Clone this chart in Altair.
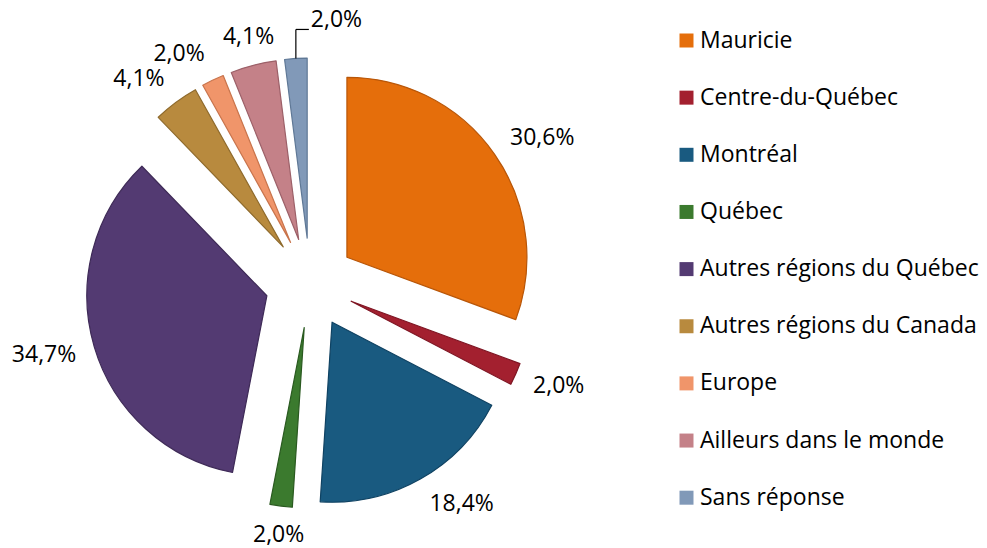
import math
import altair as alt
import pandas as pd

categories = [
    "Mauricie",
    "Centre-du-Québec",
    "Montréal",
    "Québec",
    "Autres régions du Québec",
    "Autres régions du Canada",
    "Europe",
    "Ailleurs dans le  monde",
    "Sans réponse",
]
values = [30.6, 2.0, 18.4, 2.0, 34.7, 4.1, 2.0, 4.1, 2.0]
colors = ["#E56E0B", "#A3202F", "#195A80", "#3B7A2E", "#533A72",
          "#B88A3E", "#F0956A", "#C48188", "#8199B8"]
edge_colors = ["#B85608", "#7E1523", "#0F4262", "#2A5A20", "#3E2A57",
               "#8E6A2C", "#C8744C", "#9C6068", "#5F7896"]
labels = [f"{v:.1f}".replace(".", ",") + "%" for v in values]
# label drawn with a leader line (moved out of the crowded top area)
leader_categories = ["Sans réponse"]

df = pd.DataFrame({
    "category": categories,
    "value": values,
    "label": labels,
    "order": list(range(len(categories))),
    "leader": [c in leader_categories for c in categories],
})
total = sum(values)

CX, CY = 310, 283      # pie centre (px)
R = 180                # radius
EXPLODE = 45           # explosion distance
LR = 244               # label anchor distance from centre
HH = 10                # half label height
CW = 6.4               # half-width per character of label
LEAD_UP, LEAD_RIGHT = 29, 13

base = alt.Chart(df).transform_window(
    cum="sum(value)", sort=[alt.SortField("order")], frame=[None, 0]
).transform_calculate(
    start="datum.cum - datum.value",
    end="datum.cum",
).transform_calculate(
    mid=f"(datum.start + datum.end) / 2 / {total} * 2 * PI",
).transform_calculate(
    s="sin(datum.mid)",
    c="cos(datum.mid)",
    hw=f"length(datum.label) * {CW}",
).transform_calculate(
    cx=f"{CX} + {EXPLODE} * datum.s",
    cy=f"{CY} - {EXPLODE} * datum.c",
    px=f"{CX} + {EXPLODE + R} * datum.s",
    py=f"{CY} - {EXPLODE + R} * datum.c",
    lx=f"{CX} + {LR} * datum.s + (datum.s > 0.3 ? datum.hw : datum.s < -0.3 ? -datum.hw : 0)",
    ly=f"{CY} - {LR} * datum.c - {HH} * datum.c",
).transform_calculate(
    py2=f"datum.py - {LEAD_UP}",
    px2=f"datum.px + {LEAD_RIGHT}",
)

theta_scale = alt.Scale(domain=[0, total], range=[0, 2 * math.pi])

arcs = base.mark_arc(radius=R, strokeWidth=1.2, strokeJoin="round").encode(
    x=alt.X("cx:Q", scale=None),
    y=alt.Y("cy:Q", scale=None),
    theta=alt.Theta("start:Q", scale=theta_scale),
    theta2="end:Q",
    stroke=alt.Stroke("category:N",
                      scale=alt.Scale(domain=categories, range=edge_colors),
                      legend=None),
    color=alt.Color(
        "category:N",
        scale=alt.Scale(domain=categories, range=colors),
        sort=categories,
        legend=alt.Legend(
            title=None,
            orient="none",
            legendX=675,
            legendY=29,
            symbolType="square",
            symbolSize=196,
            symbolStrokeWidth=0,
            symbolOpacity=1,
            labelFont="Open Sans",
            labelFontSize=23,
            labelColor="#000000",
            labelOffset=2,
            labelLimit=400,
            rowPadding=33.15,
            padding=0,
        ),
    ),
)

texts = base.transform_filter("!datum.leader").mark_text(
    font="Open Sans", fontSize=23, color="#000000",
    align="center", baseline="middle").encode(
    x=alt.X("lx:Q", scale=None),
    y=alt.Y("ly:Q", scale=None),
    text="label:N",
)

lead = base.transform_filter("datum.leader")

lead_v = lead.mark_rule(color="#000000", strokeWidth=1.2).encode(
    x=alt.X("px:Q", scale=None),
    y=alt.Y("py:Q", scale=None),
    y2="py2:Q",
)
lead_h = lead.mark_rule(color="#000000", strokeWidth=1.2).encode(
    x=alt.X("px:Q", scale=None),
    x2="px2:Q",
    y=alt.Y("py2:Q", scale=None),
)
lead_t = lead.mark_text(
    font="Open Sans", fontSize=23, color="#000000",
    align="left", baseline="middle", dx=2, dy=-9).encode(
    x=alt.X("px2:Q", scale=None),
    y=alt.Y("py2:Q", scale=None),
    text="label:N",
)

chart = alt.layer(arcs, texts, lead_v, lead_h, lead_t).properties(
    width=987, height=548,
    autosize=alt.AutoSizeParams(type="none"),
    padding=0,
    background="#ffffff",
).configure_view(stroke=None)

chart.save("out.html", embed_options={"renderer": "svg", "actions": False})
